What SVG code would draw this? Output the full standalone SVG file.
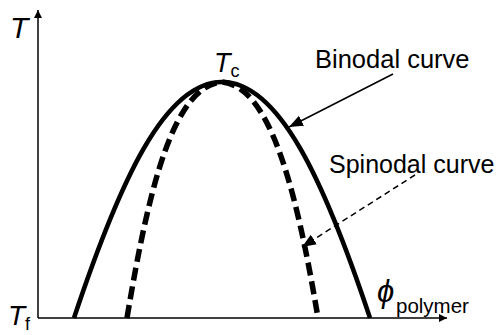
<svg xmlns="http://www.w3.org/2000/svg" width="500" height="335" viewBox="0 0 500 335">
<defs>
<style>
text{font-family:"Liberation Sans",Arial,sans-serif;fill:#000}
.it{font-style:italic}
.axis{stroke:#000;stroke-width:1.5;fill:none}
.bin{stroke:#000;stroke-width:4.5;fill:none}
.spin{stroke:#000;stroke-width:5.5;fill:none;stroke-dasharray:13 6}
.ptr{stroke:#000;stroke-width:1.5;fill:none}
.ptrd{stroke:#000;stroke-width:1.5;fill:none;stroke-dasharray:6 4}
</style>
<marker id="ah" viewBox="0 0 10 10" refX="10" refY="5" markerWidth="8" markerHeight="8" markerUnits="userSpaceOnUse" orient="auto">
<path d="M0,0 L10,5 L0,10 z" fill="#000"/>
</marker>
<marker id="ah2" viewBox="0 0 10 10" refX="10" refY="5" markerWidth="14" markerHeight="14" markerUnits="userSpaceOnUse" orient="auto">
<path d="M0,1 L10,5 L0,9 z" fill="#000"/>
</marker>
</defs>
<g id="axes">
<line class="axis" x1="38" y1="318" x2="38" y2="10" marker-end="url(#ah)"/>
<line class="axis" x1="38" y1="318" x2="447" y2="318" marker-end="url(#ah)"/>
<text class="it" x="10" y="38" font-size="30">T</text>
<text x="8" y="325" font-size="28"><tspan class="it">T</tspan><tspan font-size="18" dy="5">f</tspan></text>
<text x="377" y="302" font-size="31" class="it">ϕ</text>
<text x="396" y="313" font-size="20.5">polymer</text>
</g>
<g id="binodal">
<path class="bin" d="M74,318 C120,180 165,82 222,82 C279,82 324,180 370,318"/>
<text x="315" y="68" font-size="25.5">Binodal curve</text>
</g>
<g id="spinodal">
<path class="spin" d="M127,318 C150,180 175,86 222,82 C268,86 295,180 318,318"/>
<text x="329" y="173" font-size="25">Spinodal curve</text>
</g>
<g id="tc">
<text x="214" y="72" font-size="27"><tspan class="it">T</tspan><tspan font-size="18" dy="5">c</tspan></text>
</g>
<g id="connectors">
<line class="ptr" x1="393" y1="74" x2="289" y2="127" marker-end="url(#ah2)"/>
<line class="ptrd" x1="415" y1="175" x2="302" y2="247" marker-end="url(#ah2)"/>
</g>
</svg>
